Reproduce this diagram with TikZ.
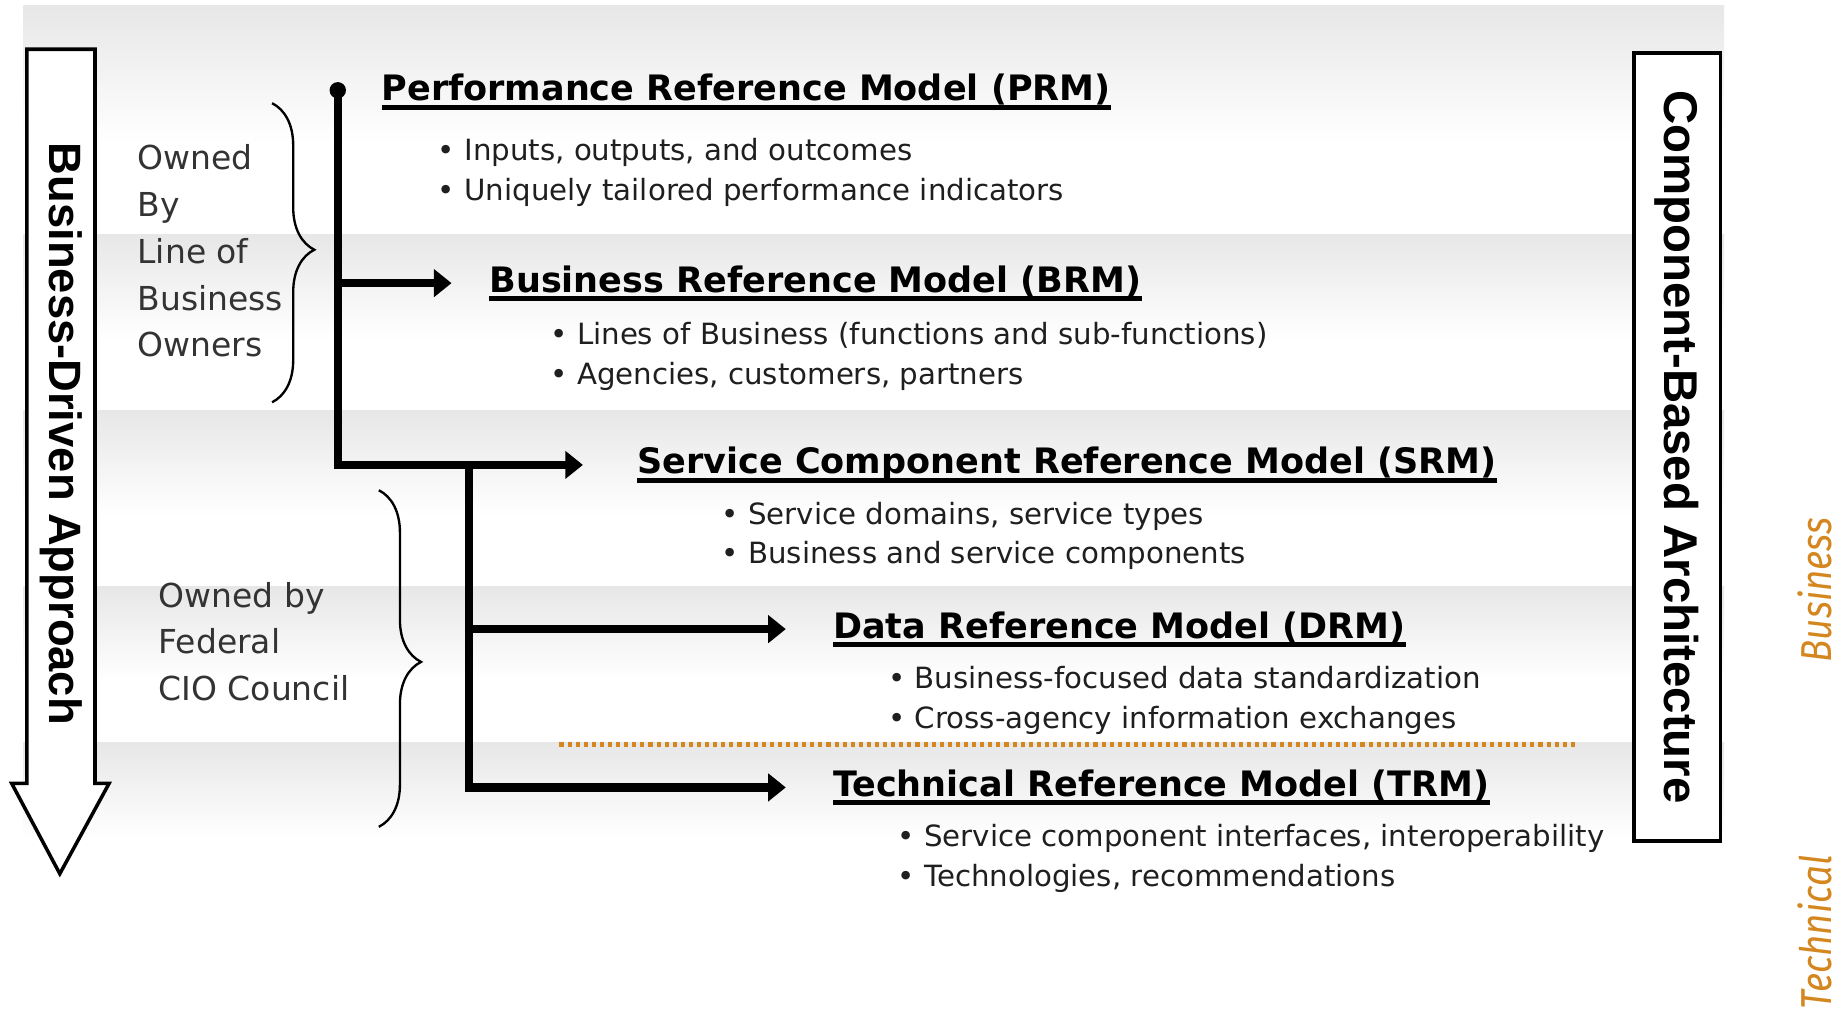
\documentclass[tikz,border=0pt]{standalone}
\usepackage{fontspec}
\setmainfont{DejaVu Sans}
\newfontfamily\sidefont{Liberation Sans}
\newfontfamily\notefont{Fira Sans}
\usepackage{graphicx}
\usepackage{tikz}
\usetikzlibrary{arrows.meta,decorations.pathreplacing}

\definecolor{bandgray}{RGB}{231,231,231}
\definecolor{feaorange}{RGB}{212,134,31}
\pgfdeclareverticalshading{bandfade}{100bp}{color(0bp)=(white); color(45bp)=(white); color(75bp)=(bandgray); color(100bp)=(bandgray)}
\newcommand{\titleline}[1]{\setbox0\hbox{#1}\rlap{\copy0}\rule[-0.15cm]{\wd0}{0.08cm}}

\begin{document}
\begin{tikzpicture}[x=0.02cm,y=-0.02cm,
  title node/.style={anchor=base west,inner sep=0pt,font=\bfseries\fontsize{17}{20}\selectfont},
  bullet node/.style={anchor=west,align=left,inner sep=0pt,text=black!88,font=\fontsize{14.2}{19.3}\selectfont},
  owner node/.style={anchor=west,align=left,inner sep=0pt,text=black!80,font=\fontsize{16}{22.7}\selectfont},
  side node/.style={rotate=-90,font=\sidefont\bfseries\fontsize{22}{26}\selectfont},
  layer node/.style={rotate=90,text=feaorange,font=\notefont\itshape\fontsize{21}{24}\selectfont},
  feed/.style={line width=0.14cm,-{Triangle[length=0.3cm,width=0.46cm]}},
  OwnerBrace/.style={decorate,line width=0.04cm,decoration={brace,amplitude=0.72cm}}]
  \useasboundingbox (0,0) rectangle (1568,864);
  \fill[white] (0,0) rectangle (1568,864);

  % shaded bands behind the five models
  \foreach \top/\bot in {5/200,200/350,350/500,500/633,633/770}
    \shade[shading=bandfade] (20,\top) rectangle (1470,\bot);

  % business-driven arrow on the left
  \draw[line width=0.06cm,fill=white] (23,42) -- (81,42) -- (81,668) -- (93,668)
    -- (51,745) -- (10,668) -- (23,668) -- cycle;
  \node[side node] (bda) at (52,370) {Business-Driven Approach};

  % component-based box on the right
  \node[side node,draw,line width=0.06cm,fill=white,minimum width=13.44cm,
    minimum height=1.48cm,font=\sidefont\bfseries\fontsize{23}{27}\selectfont] (cba) at (1430,381) {Component-Based Architecture};

  \node[layer node] (bus) at (1547,503) {\scalebox{0.85}[1]{Business}};
  \node[layer node] (tech) at (1547,795) {\scalebox{0.85}[1]{Technical}};

  % the five reference models
  \node[title node] (prm) at (325,86) {\titleline{Performance Reference Model (PRM)}};
  \node[title node] (brm) at (417,249) {\titleline{Business Reference Model (BRM)}};
  \node[title node] (srm) at (543,404) {\titleline{Service Component Reference Model (SRM)}};
  \node[title node] (drm) at (710,544) {\titleline{Data Reference Model (DRM)}};
  \node[title node] (trm) at (710,679) {\titleline{Technical Reference Model (TRM)}};

  \node[bullet node] (prmtext) at (373,147) {\textbullet{} Inputs, outputs, and outcomes\\\textbullet{} Uniquely tailored performance indicators};
  \node[bullet node] (brmtext) at (469,304) {\textbullet{} Lines of Business (functions and sub-functions)\\\textbullet{} Agencies, customers, partners};
  \node[bullet node] (srmtext) at (615,457) {\textbullet{} Service domains, service types\\\textbullet{} Business and service components};
  \node[bullet node] (drmtext) at (757,597) {\textbullet{} Business-focused data standardization\\\textbullet{} Cross-agency information exchanges};
  \node[bullet node] (trmtext) at (765,732) {\textbullet{} Service component interfaces, interoperability\\\textbullet{} Technologies, recommendations};

  % business / technical divide
  \draw[feaorange,line width=0.09cm,dash pattern=on 0.07cm off 0.068cm] (477,635) -- (1345,635);

  % owners
  \node[owner node] (lob) at (117,214) {Owned\\By\\Line of\\Business\\Owners};
  \node[owner node] (cio) at (135,547) {Owned by\\Federal\\CIO Council};
  \draw[OwnerBrace,decoration={aspect=0.49}] (232,88) -- (232,343);
  \draw[OwnerBrace,decoration={aspect=0.51}] (323,418) -- (323,705);

  % flow from the PRM down to the TRM
  \node[circle,fill,inner sep=0pt,minimum size=0.28cm] (root) at (288,77) {};
  \coordinate (fork) at (400,393);
  \draw[feed,shorten >=0.64cm] (root |- brm.west) -- (brm.west);
  \draw[feed,shorten >=0.92cm] (root.center) -- (root |- srm.west) -- (srm.west);
  \draw[feed,shorten >=0.8cm] (fork) -- (fork |- trm.west) -- (trm.west);
  \draw[feed,shorten >=0.8cm] (fork |- drm.west) -- (drm.west);
\end{tikzpicture}
\end{document}
